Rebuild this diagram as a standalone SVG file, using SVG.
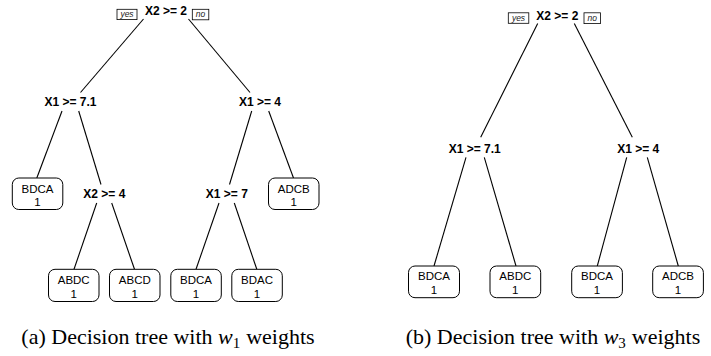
<svg xmlns="http://www.w3.org/2000/svg" width="711" height="356" viewBox="0 0 711 356">
<style>
.bg{fill:#fff}
.cond{font-family:"Liberation Sans",Arial,sans-serif;font-weight:bold;font-size:12px;text-anchor:middle;fill:#000}
.leaf rect{fill:#fff;stroke:#000;stroke-width:1}
.leaf text{font-family:"Liberation Sans",Arial,sans-serif;font-size:11.5px;text-anchor:middle;fill:#000}
.yn rect{fill:#fff;stroke:#000;stroke-width:0.8}
.yn text{font-family:"Liberation Sans",Arial,sans-serif;font-style:italic;font-size:8.5px;text-anchor:middle;fill:#222}
.edges line{stroke:#000;stroke-width:1.1}
.cap{font-family:"Liberation Serif","Times New Roman",serif;font-size:22px;text-anchor:middle;fill:#000}
</style>
<rect class="bg" x="0" y="0" width="711" height="356"/>

<!-- Tree (a) connectors -->
<g id="edges-a" class="edges">
<line x1="143.5" y1="19" x2="80.5" y2="92.5"/>
<line x1="188.5" y1="19" x2="250" y2="92.5"/>
<line x1="62" y1="111" x2="36.8" y2="178"/>
<line x1="78.7" y1="111" x2="101" y2="184.5"/>
<line x1="251.7" y1="111" x2="229.5" y2="184.5"/>
<line x1="268.7" y1="111" x2="293.5" y2="178"/>
<line x1="96.7" y1="203" x2="74" y2="269.3"/>
<line x1="111.7" y1="203" x2="134.5" y2="269.3"/>
<line x1="219" y1="203" x2="196" y2="269.3"/>
<line x1="234.3" y1="203" x2="256.8" y2="269.3"/>
</g>

<!-- Tree (a) nodes -->
<g id="a-root">
<text class="cond" x="166" y="14.5">X2 &gt;= 2</text>
<g class="yn"><rect x="117" y="9.3" width="20" height="10.3"/><text x="127" y="17.4">yes</text></g>
<g class="yn"><rect x="192.3" y="9.3" width="16.5" height="10.5"/><text x="200.5" y="17.4">no</text></g>
</g>
<g id="a-x1-71"><text class="cond" x="70.5" y="106">X1 &gt;= 7.1</text></g>
<g id="a-x1-4"><text class="cond" x="260" y="106">X1 &gt;= 4</text></g>
<g id="a-leaf-bdca" class="leaf"><rect x="12.3" y="178" width="50.5" height="31.5" rx="6.5"/><text x="37.5" y="192.5">BDCA</text><text x="37.5" y="206">1</text></g>
<g id="a-x2-4"><text class="cond" x="104.3" y="197.5">X2 &gt;= 4</text></g>
<g id="a-x1-7"><text class="cond" x="226.8" y="197.5">X1 &gt;= 7</text></g>
<g id="a-leaf-adcb" class="leaf"><rect x="268.5" y="178" width="50.5" height="31.5" rx="6.5"/><text x="293.7" y="192.5">ADCB</text><text x="293.7" y="206">1</text></g>
<g id="a-leaf-abdc" class="leaf"><rect x="48.5" y="269.3" width="50.5" height="32.2" rx="6.5"/><text x="73.7" y="283.7">ABDC</text><text x="73.7" y="297.5">1</text></g>
<g id="a-leaf-abcd" class="leaf"><rect x="109.5" y="269.3" width="50.5" height="32.2" rx="6.5"/><text x="134.8" y="283.7">ABCD</text><text x="134.8" y="297.5">1</text></g>
<g id="a-leaf-bdca2" class="leaf"><rect x="170.8" y="269.3" width="50.5" height="32.2" rx="6.5"/><text x="196" y="283.7">BDCA</text><text x="196" y="297.5">1</text></g>
<g id="a-leaf-bdac" class="leaf"><rect x="231.8" y="269.3" width="50.5" height="32.2" rx="6.5"/><text x="257" y="283.7">BDAC</text><text x="257" y="297.5">1</text></g>

<!-- Tree (b) connectors -->
<g id="edges-b" class="edges">
<line x1="537.7" y1="23.5" x2="480.7" y2="137.3"/>
<line x1="574.3" y1="23.5" x2="632.3" y2="137.3"/>
<line x1="466" y1="157.3" x2="434" y2="266"/>
<line x1="484.3" y1="157.3" x2="516" y2="266"/>
<line x1="626.7" y1="157.3" x2="597.3" y2="266"/>
<line x1="647.3" y1="157.3" x2="678.3" y2="266"/>
</g>

<!-- Tree (b) nodes -->
<g id="b-root">
<text class="cond" x="557.3" y="19.5">X2 &gt;= 2</text>
<g class="yn"><rect x="508.3" y="12.8" width="20.5" height="10.5"/><text x="518.5" y="20.9">yes</text></g>
<g class="yn"><rect x="584" y="12.8" width="16.5" height="10.8"/><text x="592.2" y="20.9">no</text></g>
</g>
<g id="b-x1-71"><text class="cond" x="474.7" y="152.5">X1 &gt;= 7.1</text></g>
<g id="b-x1-4"><text class="cond" x="638.2" y="152.5">X1 &gt;= 4</text></g>
<g id="b-leaf-bdca" class="leaf"><rect x="408.5" y="266" width="51" height="31.7" rx="6.5"/><text x="434" y="280.4">BDCA</text><text x="434" y="294">1</text></g>
<g id="b-leaf-abdc" class="leaf"><rect x="490" y="266" width="50.7" height="31.7" rx="6.5"/><text x="515.3" y="280.4">ABDC</text><text x="515.3" y="294">1</text></g>
<g id="b-leaf-bdca2" class="leaf"><rect x="571.7" y="266" width="50.7" height="31.7" rx="6.5"/><text x="597" y="280.4">BDCA</text><text x="597" y="294">1</text></g>
<g id="b-leaf-adcb" class="leaf"><rect x="652.7" y="266" width="50.7" height="31.7" rx="6.5"/><text x="678" y="280.4">ADCB</text><text x="678" y="294">1</text></g>

<!-- Captions -->
<text class="cap" x="168" y="344">(a) Decision tree with <tspan font-style="italic">w</tspan><tspan font-size="15" dy="3.5">1</tspan><tspan dy="-3.5" dx="6">weights</tspan></text>
<text class="cap" x="553" y="344">(b) Decision tree with <tspan font-style="italic">w</tspan><tspan font-size="15" dy="3.5">3</tspan><tspan dy="-3.5" dx="6">weights</tspan></text>
</svg>
